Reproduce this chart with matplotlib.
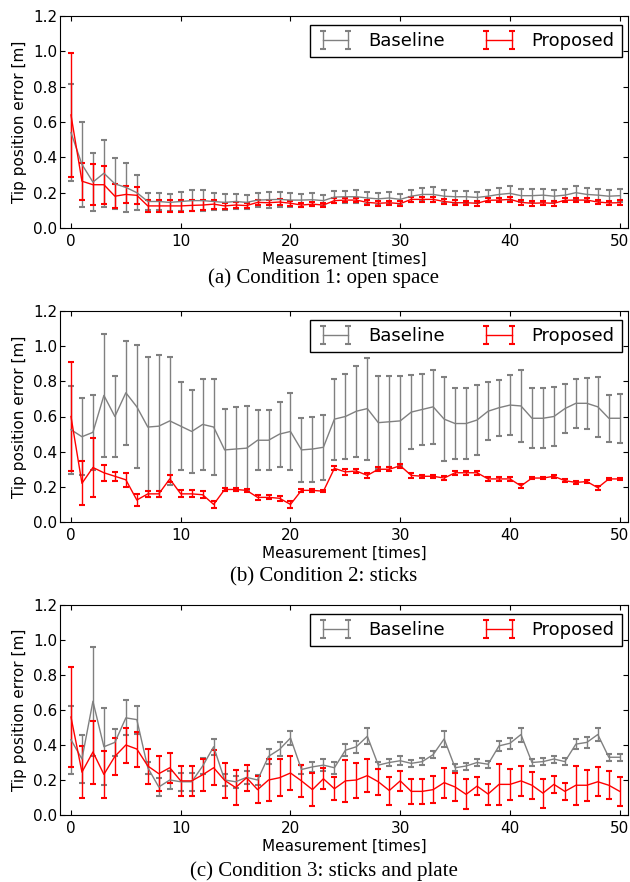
import numpy as np
import matplotlib
matplotlib.use("Agg")
import matplotlib.pyplot as plt

# measurement index
x = np.arange(51)

# Condition 1: open space
base1_mean = [0.54, 0.36, 0.26, 0.31, 0.25, 0.23, 0.20, 0.15, 0.15, 0.145,
              0.15, 0.155, 0.155, 0.15, 0.145, 0.15, 0.145, 0.158, 0.16, 0.162,
              0.158, 0.158, 0.16, 0.155, 0.175, 0.177, 0.177, 0.17, 0.165, 0.17,
              0.162, 0.18, 0.19, 0.19, 0.18, 0.177, 0.177, 0.173, 0.18, 0.19,
              0.196, 0.183, 0.183, 0.186, 0.18, 0.186, 0.20, 0.19, 0.186, 0.18,
              0.183]
base1_err = [0.275, 0.24, 0.165, 0.19, 0.145, 0.14, 0.10, 0.05, 0.05, 0.05,
             0.055, 0.06, 0.06, 0.05, 0.045, 0.045, 0.04, 0.04, 0.045, 0.042,
             0.04, 0.037, 0.037, 0.033, 0.035, 0.035, 0.037, 0.036, 0.035, 0.035,
             0.033, 0.035, 0.037, 0.04, 0.036, 0.035, 0.035, 0.033, 0.033, 0.037,
             0.04, 0.036, 0.036, 0.037, 0.033, 0.033, 0.04, 0.036, 0.035, 0.035,
             0.037]
prop1_mean = [0.64, 0.265, 0.245, 0.245, 0.18, 0.19, 0.185, 0.125, 0.125, 0.125,
              0.125, 0.128, 0.13, 0.135, 0.125, 0.13, 0.127, 0.145, 0.143, 0.147,
              0.14, 0.13, 0.135, 0.13, 0.155, 0.158, 0.158, 0.145, 0.14, 0.143,
              0.138, 0.162, 0.162, 0.162, 0.15, 0.143, 0.143, 0.14, 0.157, 0.158,
              0.162, 0.145, 0.14, 0.142, 0.14, 0.157, 0.158, 0.158, 0.147, 0.142,
              0.143]
prop1_err = [0.35, 0.105, 0.115, 0.108, 0.068, 0.048, 0.048, 0.035, 0.035, 0.033,
             0.035, 0.033, 0.03, 0.025, 0.015, 0.015, 0.012, 0.015, 0.015, 0.015,
             0.015, 0.013, 0.013, 0.012, 0.013, 0.013, 0.012, 0.014, 0.013, 0.012,
             0.013, 0.012, 0.013, 0.012, 0.014, 0.013, 0.012, 0.013, 0.012, 0.013,
             0.012, 0.013, 0.014, 0.012, 0.013, 0.012, 0.013, 0.012, 0.013, 0.012,
             0.013]

# Condition 2: sticks
base2_mean = [0.525, 0.485, 0.51, 0.72, 0.60, 0.735, 0.655, 0.54, 0.545, 0.575,
              0.545, 0.515, 0.555, 0.54, 0.41, 0.415, 0.42, 0.465, 0.465, 0.50,
              0.515, 0.41, 0.415, 0.425, 0.585, 0.60, 0.63, 0.645, 0.565, 0.57,
              0.575, 0.625, 0.64, 0.655, 0.585, 0.56, 0.56, 0.58, 0.63, 0.65,
              0.665, 0.66, 0.59, 0.59, 0.60, 0.645, 0.675, 0.675, 0.655, 0.59,
              0.59]
base2_err = [0.25, 0.22, 0.215, 0.35, 0.23, 0.295, 0.35, 0.40, 0.405, 0.365,
             0.25, 0.235, 0.26, 0.275, 0.235, 0.24, 0.24, 0.17, 0.17, 0.185,
             0.22, 0.18, 0.185, 0.185, 0.23, 0.24, 0.26, 0.29, 0.265, 0.26,
             0.255, 0.21, 0.20, 0.21, 0.24, 0.20, 0.20, 0.20, 0.165, 0.16,
             0.17, 0.205, 0.17, 0.17, 0.165, 0.14, 0.14, 0.145, 0.17, 0.135,
             0.14]
prop2_mean = [0.60, 0.22, 0.31, 0.28, 0.26, 0.24, 0.125, 0.16, 0.16, 0.245,
              0.16, 0.16, 0.155, 0.10, 0.185, 0.185, 0.18, 0.14, 0.14, 0.135,
              0.10, 0.18, 0.18, 0.175, 0.305, 0.285, 0.29, 0.265, 0.30, 0.30,
              0.32, 0.265, 0.26, 0.26, 0.25, 0.28, 0.28, 0.28, 0.245, 0.245,
              0.245, 0.205, 0.25, 0.25, 0.26, 0.235, 0.225, 0.23, 0.195, 0.245,
              0.245]
prop2_err = [0.31, 0.125, 0.17, 0.045, 0.025, 0.04, 0.035, 0.015, 0.015, 0.02,
             0.02, 0.02, 0.02, 0.02, 0.008, 0.008, 0.008, 0.013, 0.012, 0.013,
             0.02, 0.007, 0.007, 0.007, 0.012, 0.015, 0.012, 0.015, 0.012, 0.012,
             0.012, 0.012, 0.01, 0.01, 0.012, 0.01, 0.01, 0.01, 0.01, 0.01,
             0.01, 0.012, 0.008, 0.008, 0.008, 0.01, 0.01, 0.01, 0.012, 0.008,
             0.008]

# Condition 3: sticks and plate
base3_mean = [0.43, 0.32, 0.65, 0.39, 0.415, 0.555, 0.545, 0.27, 0.16, 0.20,
              0.19, 0.19, 0.28, 0.39, 0.20, 0.19, 0.215, 0.20, 0.335, 0.375,
              0.44, 0.26, 0.275, 0.285, 0.27, 0.37, 0.39, 0.45, 0.285, 0.30,
              0.31, 0.295, 0.305, 0.345, 0.435, 0.27, 0.28, 0.30, 0.29, 0.395,
              0.41, 0.46, 0.30, 0.305, 0.32, 0.305, 0.405, 0.415, 0.46, 0.33,
              0.33]
base3_err = [0.195, 0.135, 0.31, 0.22, 0.075, 0.10, 0.08, 0.035, 0.05, 0.05,
             0.05, 0.05, 0.045, 0.045, 0.035, 0.035, 0.035, 0.03, 0.045, 0.04,
             0.04, 0.025, 0.03, 0.035, 0.035, 0.035, 0.035, 0.045, 0.02, 0.02,
             0.025, 0.02, 0.02, 0.02, 0.045, 0.02, 0.02, 0.02, 0.02, 0.03,
             0.03, 0.04, 0.02, 0.02, 0.02, 0.02, 0.03, 0.03, 0.035, 0.02,
             0.02]
prop3_mean = [0.56, 0.245, 0.36, 0.232, 0.335, 0.40, 0.377, 0.28, 0.236, 0.27,
              0.195, 0.195, 0.23, 0.27, 0.198, 0.157, 0.213, 0.145, 0.20, 0.213,
              0.24, 0.195, 0.145, 0.207, 0.15, 0.195, 0.20, 0.225, 0.19, 0.14,
              0.195, 0.135, 0.135, 0.145, 0.185, 0.16, 0.118, 0.165, 0.12, 0.175,
              0.175, 0.195, 0.17, 0.125, 0.175, 0.135, 0.17, 0.17, 0.19, 0.17,
              0.135]
prop3_err = [0.285, 0.15, 0.18, 0.135, 0.105, 0.10, 0.10, 0.10, 0.10, 0.085,
             0.085, 0.085, 0.09, 0.10, 0.10, 0.10, 0.075, 0.078, 0.118, 0.105,
             0.095, 0.09, 0.095, 0.06, 0.065, 0.12, 0.10, 0.095, 0.075, 0.08,
             0.055, 0.07, 0.07, 0.078, 0.085, 0.078, 0.085, 0.053, 0.06, 0.118,
             0.09, 0.085, 0.078, 0.083, 0.05, 0.05, 0.112, 0.09, 0.083, 0.08,
             0.082]

panels = [
    (base1_mean, base1_err, prop1_mean, prop1_err, "(a) Condition 1: open space"),
    (base2_mean, base2_err, prop2_mean, prop2_err, "(b) Condition 2: sticks"),
    (base3_mean, base3_err, prop3_mean, prop3_err, "(c) Condition 3: sticks and plate"),
]

fig = plt.figure(figsize=(6.3, 8.82), dpi=100)
W, H = 630.0, 882.0
ax_left, ax_right = 60, 628
ax_tops = [16, 311, 605]
ax_bottoms = [228, 522, 815]
caption_y = [278, 577, 871]

for (bm, be, pm, pe, caption), top, bot, cy in zip(panels, ax_tops, ax_bottoms, caption_y):
    ax = fig.add_axes([ax_left / W, 1 - bot / H, (ax_right - ax_left) / W, (bot - top) / H])
    ax.errorbar(x, bm, yerr=be, color="gray", lw=1.0, elinewidth=1.0,
                capsize=2.5, capthick=1.5, label="Baseline")
    ax.errorbar(x, pm, yerr=pe, color="red", lw=1.0, elinewidth=1.0,
                capsize=2.5, capthick=1.5, label="Proposed")
    ax.set_xlim(-1, 50.75)
    ax.set_ylim(0, 1.2)
    ax.set_xticks(range(0, 51, 10))
    ax.set_yticks(np.arange(0, 1.21, 0.2))
    ax.set_yticklabels([f"{v:.1f}" for v in np.arange(0, 1.21, 0.2)])
    ax.tick_params(direction="in", top=True, right=True, length=3.5, labelsize=11)
    ax.tick_params(axis="x", pad=4)
    ax.tick_params(axis="y", pad=2)
    ax.set_xlabel("Measurement [times]", fontsize=11, labelpad=2)
    ax.set_ylabel("Tip position error [m]", fontsize=11, labelpad=4)
    leg = ax.legend(loc="upper right", bbox_to_anchor=(0.989, 0.958), borderaxespad=0,
                    ncol=2, numpoints=2, fontsize=13, fancybox=False, framealpha=1,
                    edgecolor="black")
    leg.get_frame().set_linewidth(1.0)
    fig.text(324 / W, 1 - cy / H, caption, ha="center", va="center",
             fontsize=15, family="Liberation Serif")

fig.savefig("out.png", dpi=100)
